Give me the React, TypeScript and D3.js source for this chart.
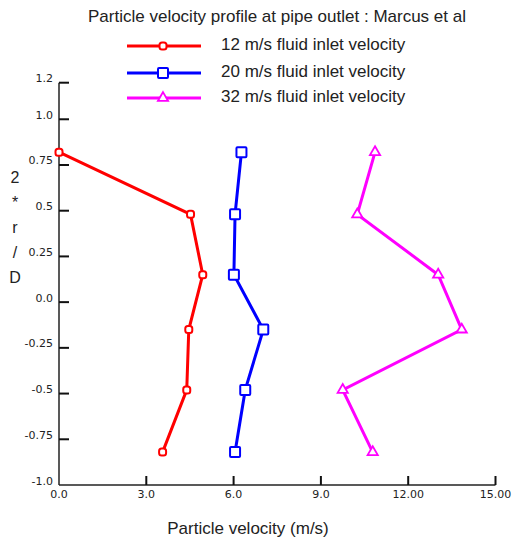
import React from 'react';
import * as d3 from 'd3';

// y positions (2*r/D) shared by all three profiles
const radialPos = [0.82, 0.48, 0.15, -0.15, -0.48, -0.82];

const vel12 = [0.0, 4.52, 4.94, 4.46, 4.39, 3.56];
const vel20 = [6.27, 6.05, 6.01, 7.02, 6.4, 6.05];
const vel32 = [10.86, 10.25, 13.03, 13.84, 9.75, 10.78];

const seriesNames = [
  '12 m/s fluid inlet velocity',
  '20 m/s fluid inlet velocity',
  '32 m/s fluid inlet velocity',
];
const seriesColors = ['#ff0000', '#0000ff', '#ff00ff'];
const seriesMarkers = ['circle', 'square', 'triangle'];

const xTicks = [0, 3, 6, 9, 12, 15];
const xTickLabels = ['0.0', '3.0', '6.0', '9.0', '12.00', '15.00'];
const yTicks = [1.2, 1.0, 0.75, 0.5, 0.25, 0.0, -0.25, -0.5, -0.75, -1.0];
const yTickLabels = ['1.2', '1.0', '0.75', '0.5', '0.25', '0.0', '-0.25', '-0.5', '-0.75', '-1.0'];

const W = 512;
const H = 537;
const font = '"Liberation Sans", Arial, sans-serif';
const tickFont = '"DejaVu Sans", sans-serif';

const x = d3.scaleLinear().domain([0, 15]).range([59, 495.5]);
const y = d3.scaleLinear().domain([-1, 1.2]).range([485, 82.7]);

function Marker({ kind, cx, cy, color }: { kind: string; cx: number; cy: number; color: string }) {
  if (kind === 'circle') {
    return <rect x={cx - 3.5} y={cy - 3.5} width={7} height={7} rx={2.5} fill="white" stroke={color} strokeWidth={2} />;
  }
  if (kind === 'square') {
    return <rect x={cx - 5} y={cy - 5} width={10} height={10} rx={1} fill="white" stroke={color} strokeWidth={2} />;
  }
  const tri = d3.symbol().type(d3.symbolTriangle).size(45)();
  return <path d={tri || ''} transform={`translate(${cx},${cy})`} fill="white" stroke={color} strokeWidth={1.8} />;
}

export default function App() {
  const all = [vel12, vel20, vel32];
  const line = d3
    .line<[number, number]>()
    .x((d) => x(d[0]))
    .y((d) => y(d[1]));
  const legendY = [46, 73, 98];

  return (
    <svg width={W} height={H} style={{ position: 'absolute', left: 0, top: 0, background: 'white' }} fontFamily={font}>
      <rect width={W} height={H} fill="white" />
      <text x={277} y={22} textAnchor="middle" fontSize={17} fill="#222">
        Particle velocity profile at pipe outlet : Marcus et al
      </text>

      {/* legend */}
      {seriesNames.map((name, i) => (
        <g key={name}>
          <line x1={127} x2={201} y1={legendY[i]} y2={legendY[i]} stroke={seriesColors[i]} strokeWidth={3} />
          <Marker kind={seriesMarkers[i]} cx={163} cy={legendY[i]} color={seriesColors[i]} />
          <text x={221} y={legendY[i] + 3.5} fontSize={17} fill="#222">
            {name}
          </text>
        </g>
      ))}

      {/* axes */}
      <line x1={x(0)} x2={x(0)} y1={y(1.2)} y2={y(-1)} stroke="#222" strokeWidth={1.5} />
      <line x1={x(0)} x2={x(15)} y1={y(-1)} y2={y(-1)} stroke="#222" strokeWidth={1.5} />
      {yTicks.map((t, i) => (
        <g key={'y' + t}>
          {t !== -1 && <line x1={x(0)} x2={x(0) + 10} y1={y(t)} y2={y(t)} stroke="#111" strokeWidth={2} />}
          <text x={53} y={y(t) - 0.5} textAnchor="end" fontSize={11} fontFamily={tickFont} fill="#222">
            {yTickLabels[i]}
          </text>
        </g>
      ))}
      {xTicks.map((t, i) => (
        <g key={'x' + t}>
          {t !== 0 && <line x1={x(t)} x2={x(t)} y1={y(-1)} y2={y(-1) - 9} stroke="#111" strokeWidth={2} />}
          <text x={x(t)} y={498} textAnchor="middle" fontSize={11} fontFamily={tickFont} fill="#222">
            {xTickLabels[i]}
          </text>
        </g>
      ))}

      {/* axis titles */}
      {['2', '*', 'r', '/', 'D'].map((c, i) => (
        <text key={i} x={15} y={183 + i * 25} textAnchor="middle" fontSize={16} fill="#222">
          {c}
        </text>
      ))}
      <text x={248} y={534} textAnchor="middle" fontSize={17} fill="#222">
        Particle velocity (m/s)
      </text>

      {/* series */}
      {all.map((vals, s) => {
        const pts = vals.map((v, j) => [v, radialPos[j]] as [number, number]);
        return (
          <g key={s}>
            <path d={line(pts) || ''} fill="none" stroke={seriesColors[s]} strokeWidth={3} />
            {pts.map((p, j) => (
              <Marker key={j} kind={seriesMarkers[s]} cx={x(p[0])} cy={y(p[1])} color={seriesColors[s]} />
            ))}
          </g>
        );
      })}
    </svg>
  );
}
